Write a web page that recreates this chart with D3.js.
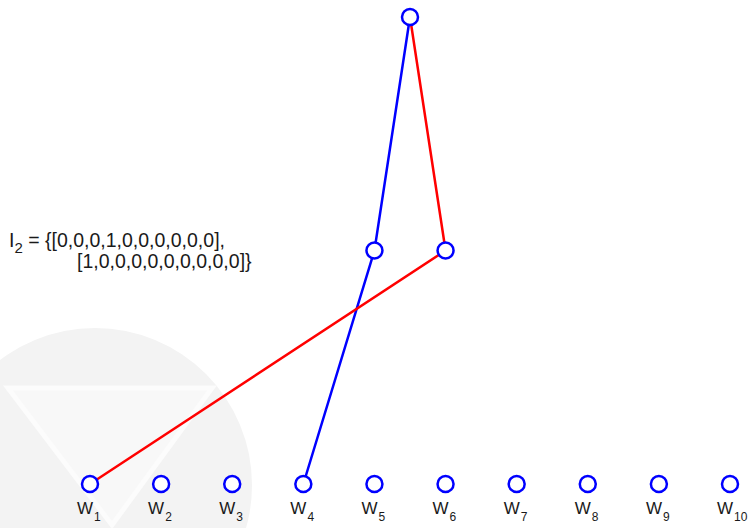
<!DOCTYPE html>
<html><head><meta charset="utf-8">
<script src="https://cdn.jsdelivr.net/npm/d3@7"></script>
<style>body{margin:0;background:#fff}svg{display:block}text{font-family:"Liberation Sans",Arial,sans-serif;fill:#1a1a1a}</style>
</head><body><svg id="c" width="754" height="528"></svg>
<script>
// data
const bottomIdx = [1,2,3,4,5,6,7,8,9,10];
const bottomLabels = ["1","2","3","4","5","6","7","8","9","10"];
const midIdx = [5,6];
const topIdx = [5.5];
// paths: [node index, level]
const bluePath = [[4,0],[5,1],[5.5,2]];
const redPath = [[1,0],[6,1],[5.5,2]];
const vecLine1 = "[0,0,0,1,0,0,0,0,0,0],";
const vecLine2 = "[1,0,0,0,0,0,0,0,0,0]}";

const svg = d3.select("#c");
const x = d3.scaleLinear().domain([1,10]).range([90,730]);
const y = d3.scaleLinear().domain([0,2]).range([484,17]);

// faint watermark
const wm = svg.append("g");
wm.append("circle").attr("cx",95).attr("cy",485).attr("r",157).attr("fill","#f3f3f3");
wm.append("path").attr("d","M8,388 L212,388 L112,525 Z").attr("fill","#f8f8f8").attr("stroke","#fcfcfc").attr("stroke-width",5);

const line = d3.line().x(d=>x(d[0])).y(d=>y(d[1]));
svg.append("path").attr("d",line(bluePath)).attr("fill","none").attr("stroke","#0000ff").attr("stroke-width",2.5);
svg.append("path").attr("d",line(redPath)).attr("fill","none").attr("stroke","#ff0000").attr("stroke-width",2.5);

const nodes = bottomIdx.map(i=>[i,0]).concat(midIdx.map(i=>[i,1])).concat(topIdx.map(i=>[i,2]));
svg.selectAll("circle.n").data(nodes).join("circle").attr("class","n")
  .attr("cx",d=>x(d[0])).attr("cy",d=>y(d[1])).attr("r",8)
  .attr("fill","#fff").attr("stroke","#0000ff").attr("stroke-width",2.5);

// labels
const lab = svg.selectAll("text.w").data(bottomIdx).join("text").attr("class","w")
  .attr("x",d=>x(d)-13).attr("y",514).attr("font-size",17);
lab.append("tspan").text("W");
lab.append("tspan").attr("font-size",12).attr("dx",1).attr("dy",7).text((d,i)=>bottomLabels[i]);

const t1 = svg.append("text").attr("x",9).attr("y",247).attr("font-size",19.5);
t1.append("tspan").text("I");
t1.append("tspan").attr("font-size",15).attr("dy",6).text("2");
t1.append("tspan").attr("dy",-6).text(" = {" + vecLine1);
svg.append("text").attr("x",77).attr("y",268).attr("font-size",19.5).text(vecLine2);
</script></body></html>
